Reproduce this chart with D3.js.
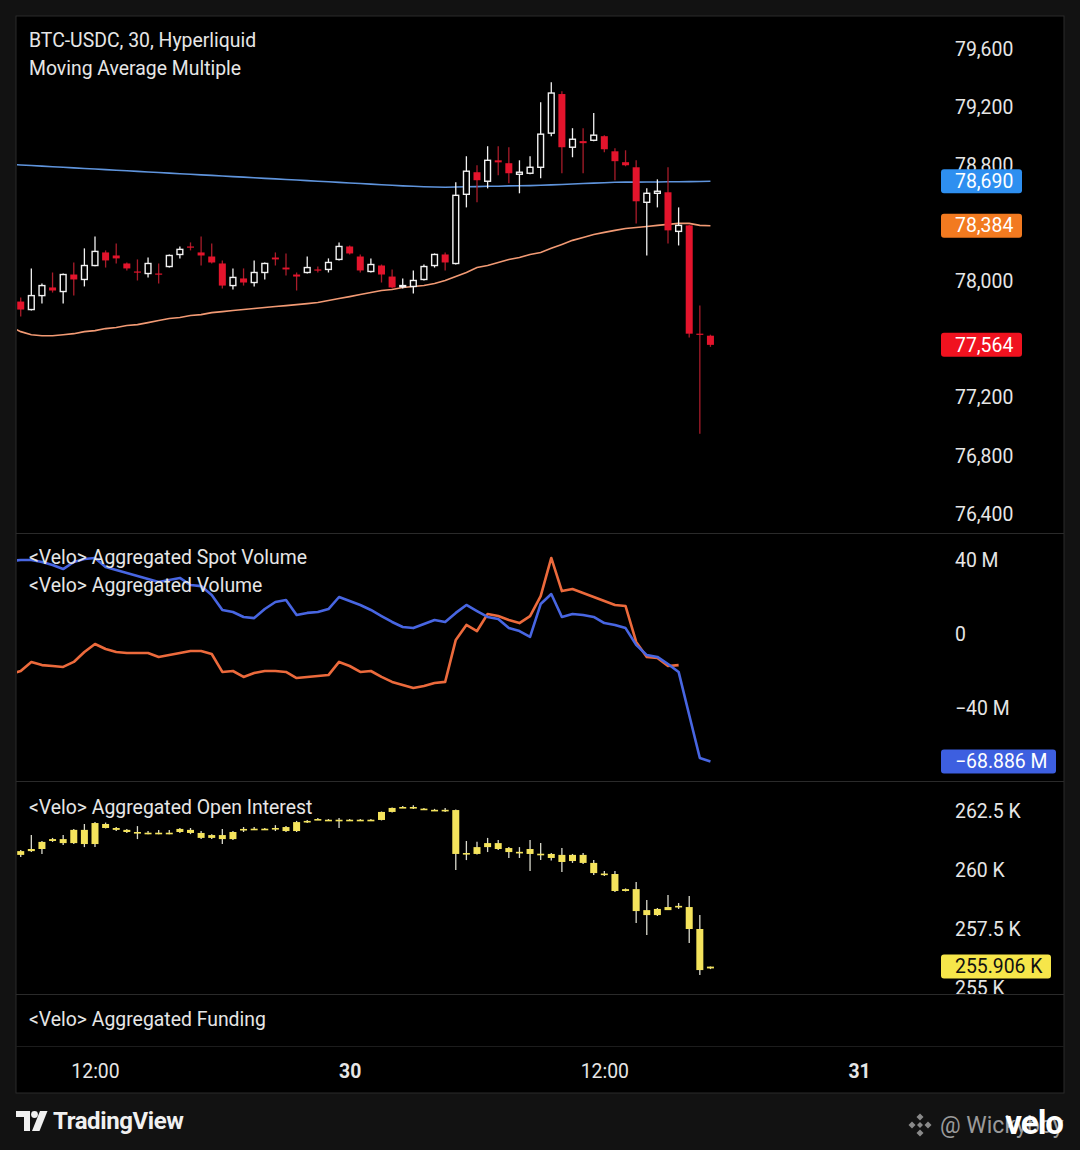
<!DOCTYPE html>
<html><head><meta charset="utf-8">
<script src="https://cdn.jsdelivr.net/npm/d3@7"></script>
<style>
html,body{margin:0;padding:0;background:#121212;}
svg{display:block;font-family:Roboto,"Noto Sans",sans-serif;}
</style></head><body>
<svg id="c" width="1080" height="1150"></svg>
<script>
// ---------------- DATA ----------------
const xDomain = ["2025-03-29T12:00", "2025-03-31T00:00"];
const candleStart = "2025-03-29T08:30";   // 30-minute candles
const lineStart = "2025-03-29T08:00";     // line series start one bar earlier
const timeTicks = ["2025-03-29T12:00", "2025-03-30T00:00", "2025-03-30T12:00", "2025-03-31T00:00"];

// BTC-USDC 30m candles [open, high, low, close]
const priceCandles = [
 [77862,77890,77759,77807],[77807,78090,77800,77903],[77903,77986,77848,77972],[77959,78062,77924,77938],
 [77931,78055,77848,78048],[78048,78131,77903,78014],[78014,78228,77966,78110],[78110,78310,78105,78207],
 [78200,78214,78096,78145],[78179,78262,78124,78159],[78124,78131,78076,78090],[78069,78152,78007,78062],
 [78055,78165,78028,78124],[78055,78124,77986,78048],[78103,78186,78096,78179],[78186,78241,78159,78221],
 [78241,78269,78214,78234],[78200,78310,78110,78179],[78172,78262,78124,78131],[78124,78145,77952,77972],
 [77972,78090,77945,78028],[78021,78090,77972,77993],[77993,78145,77966,78062],[78062,78131,78014,78124],
 [78165,78200,78110,78152],[78096,78193,78041,78083],[78048,78062,77938,78034],[78062,78172,78055,78096],
 [78083,78103,78062,78076],[78083,78159,78062,78131],[78152,78269,78145,78241],[78241,78248,78186,78193],
 [78172,78186,78062,78076],[78069,78159,78062,78117],[78110,78117,77993,78048],[78034,78083,77952,77959],
 [77966,78021,77952,77972],[77966,78076,77917,78007],[78014,78117,78007,78103],[78110,78193,78096,78186],
 [78186,78200,78076,78131],[78124,78683,78117,78593],[78600,78862,78510,78759],[78752,78800,78545,78697],
 [78690,78931,78641,78834],[78834,78931,78731,78820],[78814,78924,78676,78745],[78738,78834,78607,78752],
 [78745,78862,78738,78786],[78786,79234,78710,79014],[79021,79372,79000,79297],[79290,79310,78745,78924],
 [78924,79055,78855,78979],[78966,79055,78745,78952],[78972,79159,78965,79007],[79000,79007,78890,78910],
 [78896,78917,78697,78828],[78821,78903,78793,78800],[78786,78834,78400,78552],[78545,78641,78179,78607],
 [78607,78703,78510,78621],[78614,78786,78262,78352],[78345,78510,78248,78386],[78386,78393,77614,77641],
 [77641,77834,76952,77634],[77627,77634,77550,77564]
];

// Moving averages (from lineStart, one value per 30 min)
const maBlue = [
 78806,78802,78798,78794,78790,78786,78782,78778,78774,78770,78766,78762,78758,78754,78750,78746,78742,
 78738,78734,78730,78726,78722,78718,78714,78710,78706,78702,78698,78694,78690,78686,78682,78678,78674,
 78670,78666,78662,78658,78655,78652,78650,78649,78650,78652,78653,78655,78656,78658,78659,78660,78662,
 78665,78668,78671,78674,78677,78680,78683,78684,78684,78685,78685,78686,78686,78687,78688,78690
];
const maOrange = [
 77690,77655,77634,77627,77627,77634,77641,77655,77662,77676,77683,77697,77703,77717,77731,77745,77752,
 77766,77772,77786,77793,77800,77807,77814,77821,77828,77834,77841,77848,77855,77869,77883,77896,77910,
 77924,77938,77945,77959,77966,77972,77986,78007,78034,78062,78097,78110,78131,78152,78165,78186,78200,
 78228,78255,78283,78303,78324,78338,78352,78365,78372,78379,78386,78393,78400,78400,78386,78384
];

// <Velo> volume lines, millions (from lineStart)
const volBlue = [
 39.5,40.0,40.0,38.9,37.3,35.1,38.9,40.5,41.1,36.2,34.6,33.0,31.4,29.7,28.1,29.2,30.3,26.5,25.9,21.1,
 13.0,11.9,9.2,8.6,13.5,17.3,18.4,10.3,11.4,11.9,13.5,20.0,17.8,15.7,13.0,9.7,6.5,3.8,3.2,5.4,7.6,6.5,
 11.4,15.7,12.4,9.2,8.1,3.2,1.6,-1.6,16.2,21.6,9.2,10.8,10.3,9.2,5.9,4.9,3.2,-5.9,-11.4,-12.4,-16.2,
 -20.5,-43.8,-67.0,-68.886
];
const volOrange = [
 -21.6,-20.0,-15.1,-16.8,-17.3,-17.8,-15.1,-9.7,-5.4,-8.1,-9.7,-10.3,-10.3,-10.3,-12.4,-11.4,-10.3,-9.2,
 -9.2,-10.8,-20.5,-20.0,-23.2,-21.1,-20.0,-20.0,-20.5,-23.8,-23.2,-22.7,-22.2,-15.1,-17.3,-20.5,-20.0,
 -23.2,-25.9,-27.6,-29.2,-28.1,-26.5,-25.9,-3.2,4.9,1.6,10.8,9.7,7.6,5.9,9.7,20.5,41.1,23.2,24.3,22.2,
 20.0,17.8,15.7,15.1,-4.3,-12.4,-13.0,-17.3,-16.8
];

// <Velo> aggregated open interest candles, thousands [open, high, low, close]
const oiCandles = [
 [260.64,260.85,260.55,260.80],[260.80,261.48,260.76,260.89],[260.89,261.23,260.68,261.19],[261.23,261.36,261.19,261.31],
 [261.31,261.48,261.06,261.14],[261.14,261.74,261.10,261.70],[261.70,261.95,260.97,261.10],[261.10,262.03,260.97,261.99],
 [261.95,262.01,261.76,261.78],[261.78,261.82,261.65,261.70],[261.70,261.74,261.57,261.61],[261.61,261.86,261.31,261.57],
 [261.57,261.65,261.52,261.58],[261.58,261.70,261.52,261.57],[261.57,261.70,261.52,261.58],[261.61,261.78,261.57,261.74],
 [261.70,261.78,261.52,261.57],[261.57,261.65,261.31,261.36],[261.36,261.52,261.31,261.48],[261.48,261.74,261.10,261.31],
 [261.31,261.65,261.27,261.61],[261.70,261.82,261.61,261.74],[261.73,261.82,261.69,261.75],[261.75,261.78,261.72,261.74],
 [261.76,261.90,261.65,261.78],[261.65,261.86,261.61,261.82],[261.65,262.08,261.61,262.03],[262.06,262.12,261.99,262.08],
 [262.14,262.20,262.12,262.16],[262.11,262.16,262.08,262.13],[262.11,262.20,261.78,262.13],[262.11,262.16,262.08,262.13],
 [262.11,262.16,262.08,262.13],[262.11,262.16,262.08,262.13],[262.12,262.48,262.10,262.46],[262.46,262.65,262.44,262.63],
 [262.66,262.71,262.63,262.67],[262.67,262.74,262.59,262.66],[262.60,262.63,262.55,262.58],[262.55,262.59,262.50,262.54],
 [262.55,262.63,262.46,262.54],[262.54,262.56,260.00,260.68],[260.70,261.23,260.42,260.72],[260.68,261.20,260.66,260.97],
 [260.97,261.36,260.76,261.14],[261.14,261.27,260.85,260.89],[260.93,260.97,260.51,260.76],[260.76,260.97,260.51,260.77],
 [260.89,261.27,259.96,260.68],[260.68,261.14,260.42,260.69],[260.68,260.72,260.40,260.51],[260.64,260.93,259.92,260.34],
 [260.38,260.68,260.30,260.64],[260.64,260.72,260.25,260.30],[260.30,260.42,259.79,259.87],[259.85,259.96,259.75,259.83],
 [259.83,259.96,259.07,259.11],[259.11,259.22,259.09,259.19],[259.19,259.49,257.75,258.26],[258.30,258.73,257.25,258.09],
 [258.09,258.39,258.05,258.35],[258.30,258.94,258.30,258.43],[258.45,258.60,258.35,258.48],[258.43,258.90,256.91,257.50],
 [257.50,258.09,255.55,255.76],[255.83,255.91,255.80,255.906]
];

const priceTicks = [76400,76800,77200,77600,78000,78400,78800,79200,79600];
const volTicks = [-40,0,40];
const oiTicks = [255,257.5,260,262.5];

// ---------------- LAYOUT ----------------
const svg = d3.select("#c");
const F = {x0:16, x1:1064, y0:16, y1:1093};
const plotR = 935, axisX = 955, tagX = 941;
const panes = {price:[16,533], vol:[533,781], oi:[781,994], fund:[994,1046]};
const txt = "#e6e6e6";
const FS = "19.4px";

const parse = d3.utcParse("%Y-%m-%dT%H:%M");
const x = d3.scaleUtc().domain(xDomain.map(parse)).range([95, 859]);
const yP = d3.scaleLinear().domain([76400,79600]).range([514,49]);
const yV = d3.scaleLinear().domain([-40,40]).range([708,560]);
const yO = d3.scaleLinear().domain([255,262.5]).range([988,811]);

const cTimes = priceCandles.map((d,i)=>d3.utcMinute.offset(parse(candleStart), 30*i));
const lTimes = maBlue.map((d,i)=>d3.utcMinute.offset(parse(lineStart), 30*i));

// frame
svg.append("rect").attr("width",1080).attr("height",1150).attr("fill","#121212");
svg.append("rect").attr("x",F.x0).attr("y",F.y0).attr("width",F.x1-F.x0).attr("height",F.y1-F.y0)
  .attr("fill","#000").attr("stroke","#2a2a2a").attr("stroke-width",1);
[533,781,994,1046].forEach(y=>svg.append("line").attr("x1",F.x0).attr("x2",F.x1).attr("y1",y+0.5).attr("y2",y+0.5)
  .attr("stroke", y===1046?"#1c1c1c":"#2a2a2a"));

const defs = svg.append("defs");
function clip(id, x0, y0, x1, y1){
  defs.append("clipPath").attr("id",id).append("rect").attr("x",x0).attr("y",y0).attr("width",x1-x0).attr("height",y1-y0);
  return "url(#"+id+")";
}
const cpPrice = clip("cp", F.x0+1, panes.price[0]+1, plotR, panes.price[1]);
const cpVol = clip("cv", F.x0+1, panes.vol[0]+1, plotR, panes.vol[1]);
const cpOi = clip("co", F.x0+1, panes.oi[0]+1, plotR, panes.oi[1]);
const cpOiAxis = clip("coa", plotR, panes.oi[0]+1, F.x1, panes.oi[1]);

// ---------------- PRICE PANE ----------------
const gP = svg.append("g").attr("clip-path", cpPrice);
const lineMA = d3.line().x((d,i)=>x(lTimes[i])).y(d=>yP(d));
gP.append("path").datum(maBlue).attr("d",lineMA).attr("fill","none").attr("stroke","#5f94dc").attr("stroke-width",1.6);
gP.append("path").datum(maOrange).attr("d",lineMA).attr("fill","none").attr("stroke","#f29a74").attr("stroke-width",1.6);

const bw = 7;
priceCandles.forEach((c,i)=>{
  const [o,h,l,cl] = c, cx = x(cTimes[i]);
  const up = cl >= o;
  const top = yP(Math.max(o,cl)), bot = yP(Math.min(o,cl));
  const bh = Math.max(1.2, bot-top);
  if(up){
    gP.append("line").attr("x1",cx).attr("x2",cx).attr("y1",yP(h)).attr("y2",yP(l)).attr("stroke","#f2f2f2").attr("stroke-width",1.3);
    gP.append("rect").attr("x",cx-bw/2+0.6).attr("y",top).attr("width",bw-1.2).attr("height",bh)
      .attr("fill","#000").attr("stroke","#f2f2f2").attr("stroke-width",1.4);
  } else {
    gP.append("line").attr("x1",cx).attr("x2",cx).attr("y1",yP(h)).attr("y2",yP(l)).attr("stroke","#a81c2a").attr("stroke-width",1.3);
    gP.append("rect").attr("x",cx-bw/2).attr("y",top).attr("width",bw).attr("height",bh).attr("fill","#e3142c");
  }
});

// ---------------- VOLUME PANE ----------------
const gV = svg.append("g").attr("clip-path", cpVol);
const lineV = d3.line().x((d,i)=>x(lTimes[i])).y(d=>yV(d));
gV.append("path").datum(volOrange).attr("d",lineV).attr("fill","none").attr("stroke","#ec6a3c").attr("stroke-width",2.6).attr("stroke-linejoin","round");
gV.append("path").datum(volBlue).attr("d",lineV).attr("fill","none").attr("stroke","#4866e2").attr("stroke-width",2.6).attr("stroke-linejoin","round");

// ---------------- OI PANE ----------------
const gO = svg.append("g").attr("clip-path", cpOi);
oiCandles.forEach((c,i)=>{
  const [o,h,l,cl] = c, cx = x(cTimes[i]);
  const top = yO(Math.max(o,cl)), bot = yO(Math.min(o,cl));
  const bh = Math.max(1.6, bot-top);
  gO.append("line").attr("x1",cx).attr("x2",cx).attr("y1",yO(h)).attr("y2",yO(l)).attr("stroke","#d9d9cc").attr("stroke-width",1.3);
  gO.append("rect").attr("x",cx-bw/2).attr("y",top).attr("width",bw).attr("height",bh).attr("fill","#f4e35c");
});

// ---------------- AXES ----------------
// price-scale labels that sit fully under a value tag are hidden, as on the original scale
const priceTagValues = [maBlue[maBlue.length-1], maOrange[maOrange.length-1], priceCandles[priceCandles.length-1][3]];
const visiblePriceTicks = priceTicks.filter(t => priceTagValues.every(v => Math.abs(yP(t)-yP(v)) > 12));

function yAxis(parent, scale, ticks, fmt){
  const g = parent.append("g").attr("transform",`translate(${axisX},0)`)
    .call(d3.axisRight(scale).tickValues(ticks).tickSize(0).tickPadding(0).tickFormat(fmt));
  g.select(".domain").remove();
  g.selectAll("text").attr("fill",txt).style("font-size",FS).style("font-family","Roboto, sans-serif");
  return g;
}
yAxis(svg, yP, visiblePriceTicks, d3.format(","));
yAxis(svg, yV, volTicks, v => v===0 ? "0" : (v<0?"\u2212":"") + Math.abs(v) + " M");
yAxis(svg.append("g").attr("clip-path", cpOiAxis), yO, oiTicks, v => v + " K");

// time axis
{
  const g = svg.append("g").attr("transform","translate(0,1064)")
    .call(d3.axisBottom(x).tickValues(timeTicks.map(parse)).tickSize(0).tickPadding(0)
      .tickFormat(d => d.getUTCHours()===0 ? String(d.getUTCDate()) : d3.utcFormat("%H:%M")(d)));
  g.select(".domain").remove();
  g.selectAll("text").attr("fill",txt).style("font-size",FS).style("font-family","Roboto, sans-serif")
    .style("font-weight", d => d.getUTCHours()===0 ? "700" : "400");
}

// value tags
function tag(yv, label, bg, fg, w){
  const g = svg.append("g").attr("transform",`translate(0,${yv})`);
  g.append("rect").attr("x",tagX).attr("y",-12).attr("width",w).attr("height",24).attr("rx",3).attr("fill",bg);
  g.append("text").attr("x",axisX).attr("y",0).attr("dy","0.35em").attr("fill",fg)
    .style("font-size",FS).text(label);
}
tag(yP(maBlue[maBlue.length-1]), d3.format(",")(maBlue[maBlue.length-1]), "#2e8ff0", "#ffffff", 81);
tag(yP(maOrange[maOrange.length-1]), d3.format(",")(maOrange[maOrange.length-1]), "#f27a20", "#ffffff", 81);
const lastClose = priceCandles[priceCandles.length-1][3];
tag(yP(lastClose), d3.format(",")(lastClose), "#f0121f", "#ffffff", 81);
const lastVol = volBlue[volBlue.length-1];
tag(yV(lastVol), "\u2212" + d3.format(".3f")(Math.abs(lastVol)) + " M", "#3d5fe0", "#ffffff", 115);
const lastOi = oiCandles[oiCandles.length-1][3];
tag(yO(lastOi), d3.format(".3f")(lastOi) + " K", "#f6e64a", "#111111", 110);

// ---------------- TITLES ----------------
const titles = [
  ["BTC-USDC, 30, Hyperliquid", 47],
  ["Moving Average Multiple", 75],
  ["<Velo> Aggregated Spot Volume", 564],
  ["<Velo> Aggregated Volume", 592],
  ["<Velo> Aggregated Open Interest", 814],
  ["<Velo> Aggregated Funding", 1026]
];
titles.forEach(([t,y])=>svg.append("text").attr("x",29).attr("y",y).attr("fill",txt)
  .style("font-size",FS).text(t));

// ---------------- FOOTER ----------------
const ft = svg.append("g");
ft.append("path").attr("d","M16,1111 h14 v20 h-6 v-14 h-8 z").attr("fill","#f0f0f0");
ft.append("circle").attr("cx",34.5).attr("cy",1114.5).attr("r",3.4).attr("fill","#f0f0f0");
ft.append("path").attr("d","M40,1111 h7.5 l-8,20 h-7.5 z").attr("fill","#f0f0f0");
ft.append("text").attr("x",53).attr("y",1129).attr("fill","#f0f0f0").style("font-size","24px").style("font-weight","700")
  .style("letter-spacing","-0.4px").text("TradingView");
// watermark
const dg = ft.append("g").attr("transform","translate(920,1125)").attr("fill","#8a8a8a");
[[0,-8],[-8,0],[8,0],[0,8]].forEach(([dx,dy])=>dg.append("path")
  .attr("d",`M${dx},${dy-3.5} l3.5,3.5 l-3.5,3.5 l-3.5,-3.5 z`));
dg.append("path").attr("d","M0,-3 l3,3 l-3,3 l-3,-3 z");
ft.append("text").attr("x",940).attr("y",1133).attr("fill","#9a9a9a").style("font-size","23px").text("@ Wickyboy");
ft.append("text").attr("x",1063).attr("y",1134).attr("text-anchor","end").attr("fill","#ffffff")
  .style("font-size","33px").style("font-weight","700").style("letter-spacing","-1px").text("velo");
</script>
</body></html>
